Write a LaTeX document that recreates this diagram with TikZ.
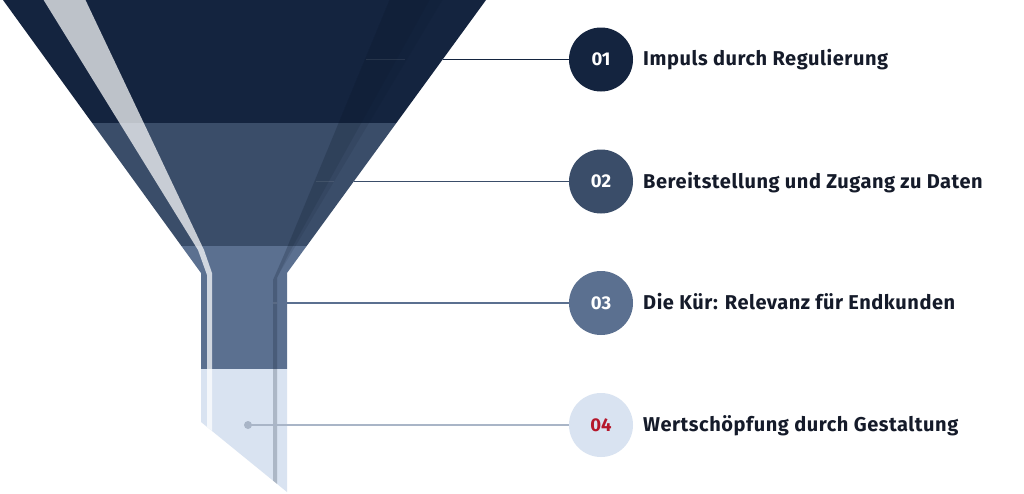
\documentclass[tikz,border=0pt]{standalone}
\usepackage{fontspec}
\setmainfont{Fira Sans}
\newfontfamily\lblfont{Fira Sans}[LetterSpace=2.8]
\definecolor{bandA}{HTML}{14243F}
\definecolor{bandB}{HTML}{3A4D69}
\definecolor{bandC}{HTML}{5B7090}
\definecolor{bandD}{HTML}{D9E3F1}
\definecolor{lineD}{HTML}{A9B5C7}
\definecolor{stripeR}{HTML}{0A1628}
\definecolor{txt}{HTML}{151B2A}
\definecolor{numred}{HTML}{B5172B}
\tikzset{
  circ/.style={circle, minimum size=64pt, inner sep=0pt, font=\fontsize{18.5}{18.5}\selectfont\bfseries, text=white},
  lbl/.style={anchor=base west, inner sep=0pt, font=\lblfont\fontsize{20}{20}\selectfont\bfseries, text=txt},
  conn/.style={line width=1.9pt},
  tick/.style={white, opacity=.09, line width=1.6pt}
}
\begin{document}
\begin{tikzpicture}[x=1pt,y=-1pt]
\useasboundingbox (0,0) rectangle (1024,493);
\fill[white] (0,0) rectangle (1024,493);
% funnel
\begin{scope}
\clip (3,0) -- (486,0) -- (287,273) -- (287,492) -- (201,422) -- (201,273) -- cycle;
\fill[bandA] (0,-1) rectangle (500,123);
\fill[bandB] (0,123) rectangle (500,246);
\fill[bandC] (0,246) rectangle (500,369);
\fill[bandD] (0,369) rectangle (500,494);
\fill[white, opacity=.72] (43,-1) -- (85,-1) -- (204,250) -- (212,273) -- (212,494) -- (207,494) -- (207,275) -- (198,250) -- cycle;
\fill[stripeR, opacity=.1] (390,-1) -- (443,-1) -- (280,272) -- (277,278) -- (277,494) -- (273,494) -- (273,280) -- (284,255) -- cycle;
\fill[stripeR, opacity=.12] (390,-1) -- (430,-1) -- (288,255) -- (277,278) -- (277,494) -- (273,494) -- (273,280) -- (284,255) -- cycle;
\draw[tick] (366,59.5) -- (405,59.5);
\draw[tick] (316,181.5) -- (334,181.5);
\draw[tick] (273,303) -- (277,303);
\end{scope}
% start points
\coordinate (s1) at (443,59.5);
\coordinate (s2) at (354,181.5);
\coordinate (s3) at (287,303);
\node[circle, fill=lineD, minimum size=8pt, inner sep=0pt] (d4) at (248,425) {};
% circles
\node[circ, fill=bandA] (c1) at (601,59.5) {01};
\node[circ, fill=bandB] (c2) at (601,181.5) {02};
\node[circ, fill=bandC] (c3) at (601,303) {03};
\node[circ, fill=bandD, text=numred] (c4) at (601,425) {04};
% connectors
\draw[conn, bandA] (s1) -- (c1);
\draw[conn, bandB] (s2) -- (c2);
\draw[conn, bandC] (s3) -- (c3);
\draw[conn, lineD] (d4.center) -- (c4);
% labels
\node[lbl] (t1) at (643,65.5) {Impuls durch Regulierung};
\node[lbl] (t2) at (643,188) {Bereitstellung und Zugang zu Daten};
\node[lbl] (t3) at (643,309.5) {Die Kür: Relevanz für Endkunden};
\node[lbl] (t4) at (643,431.5) {Wertschöpfung durch Gestaltung};
\end{tikzpicture}
\end{document}
